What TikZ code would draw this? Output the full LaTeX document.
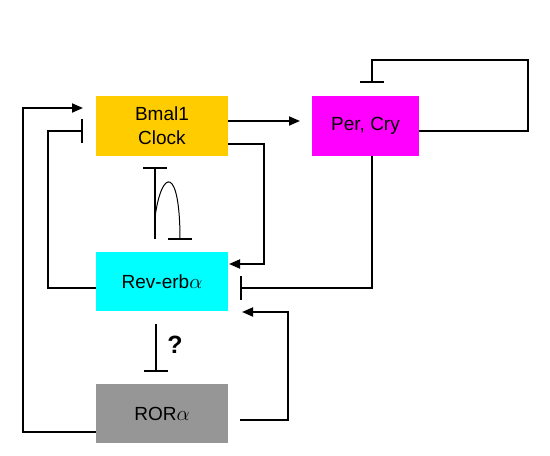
\documentclass[tikz,border=0pt]{standalone}
\usepackage{fontspec}
\setmainfont{Liberation Sans}
\usepackage{tikz}
\usetikzlibrary{positioning, arrows.meta}

\definecolor{bmalc}{HTML}{FFCC00}
\definecolor{perc}{HTML}{FF00FF}
\definecolor{revc}{HTML}{00FFFF}
\definecolor{rorc}{HTML}{969696}

\begin{document}
\begin{tikzpicture}[x=1pt, y=-1pt,
    gene/.style={minimum width=132pt, minimum height=60pt, inner sep=0pt,
      align=center, font=\fontsize{19}{24}\selectfont},
    act/.style={line width=1.8pt, -{Triangle[length=11pt,width=9pt]}},
    inh/.style={line width=1.8pt, -{Bar[width=24pt,line width=1.8pt]}}]
        \useasboundingbox (0,0) rectangle (550,456);

        % boxes
        \node[gene, fill=bmalc] (bmal) at (162,126) {Bmal1\\Clock};
        \node[gene, fill=perc, minimum width=107pt] (per) at (365.5,126) {Per, Cry};
        \node[gene, fill=revc, minimum height=59pt] (rev) at (162,281.5) {Rev-erb{\fontsize{22}{24}\selectfont$\alpha$}};
        \node[gene, fill=rorc, minimum height=59pt] (ror) at (162,413.5) {ROR{\fontsize{22}{24}\selectfont$\alpha$}};

        % Bmal1 -> Per
        \draw[act] ([yshift=5pt]bmal.east) -- (300,121);
        % Bmal1 -> Rev-erb
        \draw[act] ([yshift=-18pt]bmal.east) -| (264,264) -- (229,264);

        % Per self loop
        \draw[inh] ([yshift=-5pt]per.east) -| (528,60) -| (372,83);
        % Per -| Rev-erb
        \draw[inh] ([xshift=6.5pt]per.south) |- (240,288);

        % Rev-erb -| Bmal1
        \draw[inh] ([yshift=-6.5pt]rev.west) -| (48,131) -- (83,131);
        % ROR -> Bmal1
        \draw[act] ([yshift=-18.5pt]ror.west) -| (23,108) -- (83,108);
        % ROR -> Rev-erb
        \draw[act] ([xshift=12pt,yshift=-6.5pt]ror.east) -| (288,312) -- (242,312);

        % Rev-erb -| ROR ?
        \draw[inh] (156,324) -- (156,372);
        \node[font=\fontsize{25}{30}\selectfont\bfseries] (qm) at (175,345) {?};

        % oscillation
        \draw[inh] (155,239) -- (155,167);
        \draw[line width=1pt] (155,217) .. controls (162,167) and (180,167) .. (180,239);
        \draw[line width=1.8pt] (168,239) -- (192,239);
      \end{tikzpicture}
\end{document}
